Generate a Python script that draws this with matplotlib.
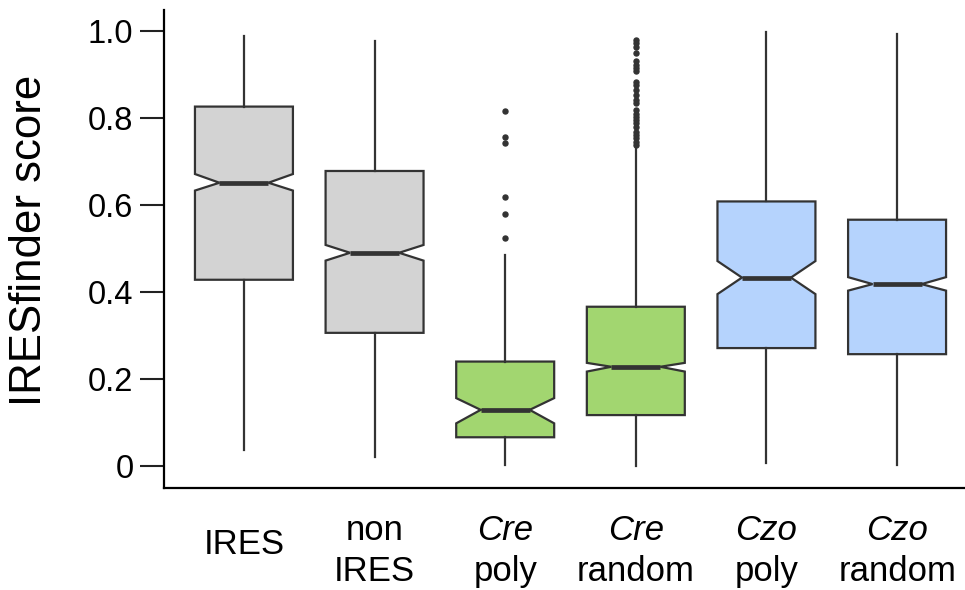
import numpy as np
import matplotlib
matplotlib.use("Agg")
import matplotlib.pyplot as plt

plt.rcParams['font.family'] = ['Liberation Sans', 'DejaVu Sans']

# Category labels (first line italic for species)
line1 = ["IRES", "non", "Cre", "Cre", "Czo", "Czo"]
line2 = ["", "IRES", "poly", "random", "poly", "random"]
italic1 = [False, False, True, True, True, True]

# Box statistics
q1 = [0.428, 0.306, 0.066, 0.117, 0.271, 0.257]
med = [0.651, 0.490, 0.129, 0.228, 0.433, 0.418]
q3 = [0.826, 0.678, 0.240, 0.366, 0.608, 0.566]
whislo = [0.037, 0.020, 0.002, 0.001, 0.006, 0.002]
whishi = [0.989, 0.977, 0.485, 0.734, 0.998, 0.993]
cilo = [0.633, 0.472, 0.098, 0.217, 0.395, 0.403]
cihi = [0.671, 0.508, 0.156, 0.237, 0.471, 0.434]

fliers_cre_poly = [0.816, 0.756, 0.742, 0.619, 0.579, 0.523]
fliers_cre_random = [0.979, 0.972, 0.964, 0.950, 0.930, 0.922, 0.914, 0.907,
                     0.883, 0.876, 0.864, 0.853, 0.841, 0.834, 0.818, 0.810,
                     0.803, 0.795, 0.788, 0.780, 0.768, 0.761, 0.753, 0.745, 0.738]
fliers = [[], [], fliers_cre_poly, fliers_cre_random, [], []]

colors = ["#d3d3d3", "#d3d3d3", "#a2d670", "#a2d670", "#b5d3fd", "#b5d3fd"]

stats = []
for i in range(len(line1)):
    stats.append(dict(q1=q1[i], med=med[i], q3=q3[i], whislo=whislo[i], whishi=whishi[i],
                      cilo=cilo[i], cihi=cihi[i], fliers=fliers[i], label=""))

fig = plt.figure(figsize=(9.65, 5.9), dpi=100)
ax = fig.add_axes([164/965, 102/590, 801/965, 478/590])

edge = "#333333"
bp = ax.bxp(stats, positions=np.arange(1, 7), widths=0.75, shownotches=True,
            patch_artist=True, showcaps=False,
            boxprops=dict(edgecolor=edge, linewidth=1.6),
            whiskerprops=dict(color=edge, linewidth=1.6),
            medianprops=dict(color=edge, linewidth=3.4, solid_capstyle='butt'),
            flierprops=dict(marker='o', markerfacecolor=edge, markeredgecolor=edge,
                            markersize=3.6, linestyle='none'))
for patch, c in zip(bp['boxes'], colors):
    patch.set_facecolor(c)

ax.set_xlim(0.388, 6.52)
ax.set_ylim(-0.0506, 1.048)

ax.spines['top'].set_visible(False)
ax.spines['right'].set_visible(False)
ax.spines['left'].set_linewidth(1.6)
ax.spines['bottom'].set_linewidth(1.6)

ax.set_yticks([0, 0.2, 0.4, 0.6, 0.8, 1.0])
ax.set_yticklabels(["0", "0.2", "0.4", "0.6", "0.8", "1.0"])
ax.tick_params(axis='y', length=17, width=1.5, pad=5, labelsize=23.5, color='#222222')
ax.set_xticks([])

ax.set_ylabel("IRESfinder score", fontsize=31.5)
ax.yaxis.set_label_coords(-0.1685, 0.519)
ax.yaxis.label.set_va('center')

# Two-line category labels below the axis
tr = ax.get_xaxis_transform()
for i in range(len(line1)):
    x = i + 1
    style1 = 'italic' if italic1[i] else 'normal'
    if line2[i] == "":
        ax.text(x, -0.119, line1[i], transform=tr, ha='center', va='center',
                fontsize=25, style=style1)
    else:
        ax.text(x, -0.0879, line1[i], transform=tr, ha='center', va='center',
                fontsize=25, style=style1)
        ax.text(x, -0.1757, line2[i], transform=tr, ha='center', va='center',
                fontsize=25)

fig.savefig("out.png", dpi=100)
